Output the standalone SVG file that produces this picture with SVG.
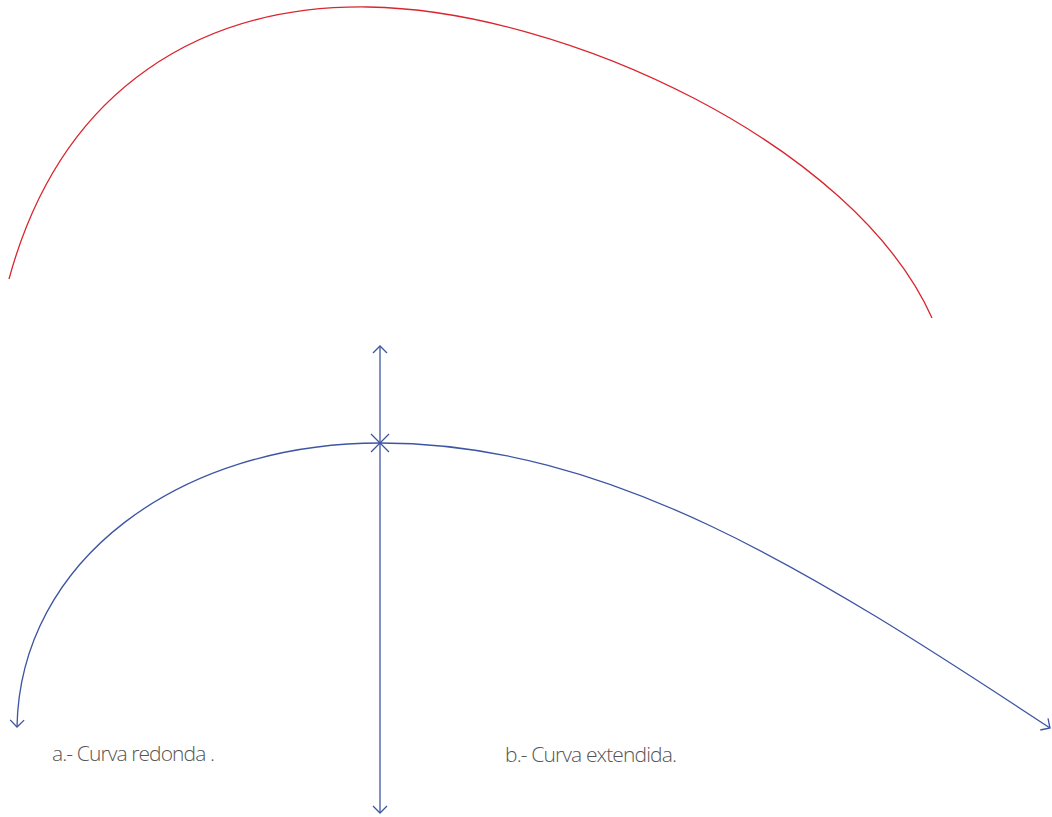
<svg xmlns="http://www.w3.org/2000/svg" width="1052" height="817" viewBox="0 0 1052 817">
<style>
.blue{fill:none;stroke:#3d55a3;stroke-width:1.3}
.red{fill:none;stroke:#d9262e;stroke-width:1.3}
.lbl{font-family:"Open Sans","Liberation Sans",sans-serif;font-weight:300;font-size:21px;fill:#555}
</style>
<defs>
<marker id="v" markerWidth="20" markerHeight="20" refX="10" refY="10" orient="auto" markerUnits="userSpaceOnUse">
<path d="M3 3 L10 10 L3 17" fill="none" stroke="#3d55a3" stroke-width="1.3"/>
</marker>
</defs>
<rect width="1052" height="817" fill="#fff"/>
<g id="red-curve">
<path class="red" d="M9 279 C62 85 205 5 368 7 C565 10 855 145 932 318"/>
</g>
<g id="connectors">
<path class="blue" d="M380 443 L380 346" marker-end="url(#v)"/>
<path class="blue" d="M380 443 L380 813" marker-end="url(#v)"/>
<path class="blue" d="M380 443 C180 443 20 560 17 727" marker-end="url(#v)"/>
<path class="blue" d="M380 443 C610 443 810 570 1050 728" marker-end="url(#v)"/>
<path class="blue" d="M371 434 L389 452 M389 434 L371 452"/>
</g>
<g id="label-a"><text class="lbl" x="52" y="761" textLength="163">a.- Curva redonda .</text></g>
<g id="label-b"><text class="lbl" x="505" y="762" textLength="172">b.- Curva extendida.</text></g>
</svg>
